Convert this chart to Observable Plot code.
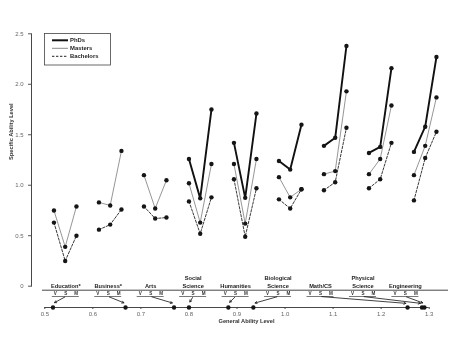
<!DOCTYPE html>
<html>
<head>
<meta charset="utf-8">
<script src="https://cdn.jsdelivr.net/npm/d3@7"></script>
<script src="https://cdn.jsdelivr.net/npm/@observablehq/plot@0.6"></script>
<style>
  html, body { margin: 0; padding: 0; background: white; }
  #wrap { position: relative; width: 460px; height: 355px; font-family: "Liberation Sans", Arial, sans-serif; }
  #wrap > svg { position: absolute; left: 0; top: 0; will-change: transform; }
</style>
</head>
<body>
<div id="wrap"></div>
<script>
// ---- data ----
const fields = ["Education*", "Business*", "Arts", "Social Science", "Humanities",
  "Biological Science", "Math/CS", "Physical Science", "Engineering"];
const fieldLabels = ["Education*", "Business*", "Arts", "Social\nScience", "Humanities",
  "Biological\nScience", "Math/CS", "Physical\nScience", "Engineering"];
const measures = ["V", "S", "M"];
// specific ability level, [V, S, M] per field
const phds = [[null, null, null], [null, null, null], [null, null, null],
  [1.26, 0.87, 1.75], [1.42, 0.875, 1.71], [1.24, 1.155, 1.60],
  [1.39, 1.47, 2.38], [1.32, 1.38, 2.16], [1.33, 1.58, 2.27]];
const masters = [[0.75, 0.39, 0.79], [0.83, 0.80, 1.34], [1.10, 0.77, 1.05],
  [1.02, 0.63, 1.21], [1.21, 0.62, 1.26], [1.08, 0.88, 0.96],
  [1.11, 1.14, 1.93], [1.11, 1.26, 1.79], [1.10, 1.39, 1.87]];
const bachelors = [[0.63, 0.25, 0.50], [0.56, 0.61, 0.76], [0.79, 0.67, 0.68],
  [0.84, 0.52, 0.88], [1.06, 0.49, 0.97], [0.86, 0.77, 0.96],
  [0.95, 1.03, 1.57], [0.97, 1.06, 1.42], [0.85, 1.27, 1.53]];
const generalAbility = [0.517, 0.668, 0.769, 0.800, 0.882, 0.934, 1.255, 1.285, 1.29];
const yTicks = [0, 0.5, 1.0, 1.5, 2.0, 2.5];
const xTicks = [0.5, 0.6, 0.7, 0.8, 0.9, 1.0, 1.1, 1.2, 1.3];
const legendNames = ["PhDs", "Masters", "Bachelors"];

// ---- helpers ----
const FONT = "'Liberation Sans', Arial, sans-serif";
const offsets = [-0.25, 0, 0.25];
const rowsFor = (series) => series.flatMap((trip, i) => trip.map((v, k) => ({i, k, v})))
  .filter(d => d.v != null);
const posX = d => d.i + offsets[d.k];
const wrapEl = document.getElementById("wrap");

const rP = rowsFor(phds), rM = rowsFor(masters), rB = rowsFor(bachelors);

// ---- upper panel ----
const upperPlot = Plot.plot({
  width: 460, height: 355,
  marginLeft: 31, marginRight: 20, marginTop: 33.3, marginBottom: 69.3,
  style: {fontFamily: FONT, background: "transparent", overflow: "visible"},
  x: {type: "linear", domain: [0, 8], range: [64.7, 424.7], axis: null},
  y: {domain: [0, 2.5], label: null},
  marks: [
    Plot.frame({anchor: "left", stroke: "#333", strokeWidth: 0.9}),
    Plot.axisY({ticks: yTicks, tickFormat: d => d === 0 ? "0" : d.toFixed(1),
      tickSize: 3, tickPadding: 5, fontSize: 6, fill: "#666", stroke: "#555", label: null}),
    Plot.text(["Specific Ability Level"], {frameAnchor: "left", rotate: -90, dx: -20,
      fontSize: 5.7, fontWeight: "bold", fill: "#333"}),
    Plot.line(rM, {x: posX, y: "v", z: "i", stroke: "#8a8a8a", strokeWidth: 0.9}),
    Plot.line(rB, {x: posX, y: "v", z: "i", stroke: "#222", strokeWidth: 0.9, strokeDasharray: "2.4,1.6"}),
    Plot.line(rP, {x: posX, y: "v", z: "i", stroke: "#111", strokeWidth: 1.9}),
    Plot.dot([...rM, ...rB, ...rP], {x: posX, y: "v", r: 2.2, fill: "#151515", stroke: "none"})
  ]
});
wrapEl.appendChild(upperPlot);

// ---- scales for lower panel ----
const abilityScale = Plot.scale({x: {type: "linear", domain: [0.5, 1.3], range: [44.3, 428.7]}});
const labelScale = Plot.scale({x: {type: "linear", domain: [0, 8], range: [65.3, 404.9]}});
const idx = fields.map((d, i) => i);
const letterRows = idx.flatMap(i => measures.map((m, k) => ({i, k, m})));

const labelPlot = Plot.plot({
  width: 460, height: 355,
  marginLeft: 42, marginRight: 12, marginTop: 20, marginBottom: 20,
  style: {fontFamily: FONT, background: "transparent", overflow: "visible"},
  x: {type: "linear", domain: [0, 8], range: [65.3, 404.9], axis: null},
  y: {type: "point", domain: ["label", "ability"], range: [292.8, 307], axis: null},
  marks: [
    Plot.ruleY(["label"], {dy: -6.3, stroke: "#333", strokeWidth: 0.9}),
    Plot.text(fieldLabels, {x: (d, i) => i, y: () => "label", dy: -8.6, lineAnchor: "bottom",
      lineHeight: 1.3, fontSize: 5.7, fontWeight: "bold", fill: "#222"}),
    Plot.text(letterRows, {x: d => d.i + offsets[d.k] * 0.98, y: () => "label", dy: -2.8,
      text: "m", fontSize: 4.6, fontWeight: "bold", fill: "#333"}),
    Plot.ruleY(idx, {x1: i => i - 0.318, x2: i => i + 0.318, y: () => "label",
      stroke: "#555", strokeWidth: 0.8}),
    Plot.arrow(idx, {x1: i => i, y1: () => "label",
      x2: i => labelScale.invert(abilityScale.apply(generalAbility[i])), y2: () => "ability",
      insetStart: 1.2, insetEnd: 1.8, headLength: 4, stroke: "#111", strokeWidth: 0.8})
  ]
});
wrapEl.appendChild(labelPlot);

const axisPlot = Plot.plot({
  width: 460, height: 355,
  marginLeft: 44.3, marginRight: 31.3, marginTop: 20, marginBottom: 48,
  style: {fontFamily: FONT, background: "transparent", overflow: "visible"},
  x: {domain: [0.5, 1.3], label: null},
  y: {domain: [0, 1], axis: null},
  marks: [
    Plot.ruleY([0], {stroke: "#333", strokeWidth: 0.9}),
    Plot.axisX({ticks: xTicks, tickFormat: d3.format(".1f"), tickSize: 2, tickPadding: 2,
      fontSize: 6, fill: "#666", stroke: "#444", label: null}),
    Plot.dot(generalAbility, {x: d => d, y: () => 0, r: 2.2, fill: "#151515", stroke: "none"}),
    Plot.text(["General Ability Level"], {frameAnchor: "bottom", dx: 9.5, dy: 15.5,
      fontSize: 5.7, fontWeight: "bold", fill: "#333"})
  ]
});
wrapEl.appendChild(axisPlot);

// ---- legend ----
const lg = d3.create("svg").attr("width", 460).attr("height", 355)
  .style("font-family", FONT);
lg.append("rect").attr("x", 44.5).attr("y", 33.5).attr("width", 66).attr("height", 31.5)
  .attr("fill", "white").attr("stroke", "#444").attr("stroke-width", 0.8);
const lstyles = [
  {stroke: "#111", w: 2, dash: null},
  {stroke: "#8a8a8a", w: 1, dash: null},
  {stroke: "#222", w: 1, dash: "2.4,1.6"}
];
legendNames.forEach((name, j) => {
  const yy = 40.3 + j * 8;
  lg.append("line").attr("x1", 52).attr("x2", 68).attr("y1", yy).attr("y2", yy)
    .attr("stroke", lstyles[j].stroke).attr("stroke-width", lstyles[j].w)
    .attr("stroke-dasharray", lstyles[j].dash);
  lg.append("text").attr("x", 70).attr("y", yy).attr("dy", "0.35em")
    .attr("font-size", 5.9).attr("font-weight", "bold").attr("fill", "#222").text(name);
});
wrapEl.appendChild(lg.node());
</script>
</body>
</html>
